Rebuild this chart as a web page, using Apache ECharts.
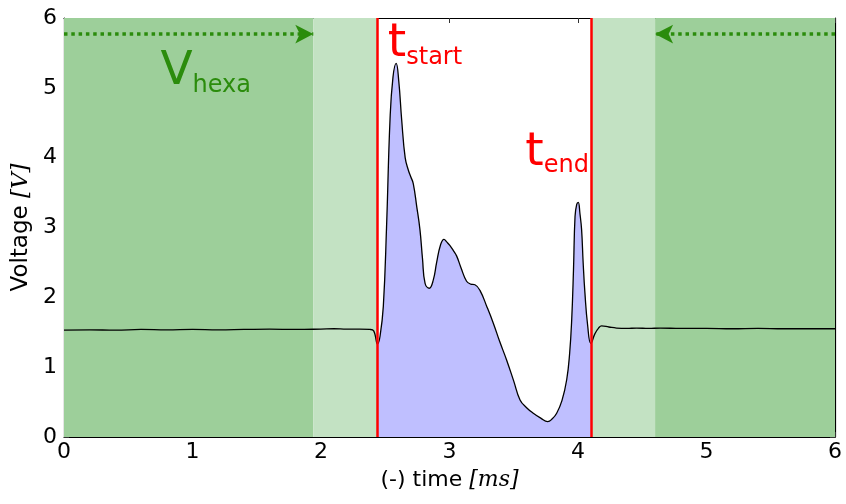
<!DOCTYPE html>
<html>
<head>
<meta charset="utf-8">
<script src="https://cdn.jsdelivr.net/npm/echarts@6/dist/echarts.min.js"></script>
<style>html,body{margin:0;padding:0;background:#fff}#c{width:846px;height:504px}</style>
</head>
<body>
<div id="c"></div>
<script>
// ---- data ----
const timeMs = [0,0.2,0.4,0.6,0.8,1.0,1.2,1.4,1.6,1.8,2.0,2.1,2.2,2.3,2.38,2.41,2.44,2.46,2.485,2.51,2.537,2.56,2.585,2.605,2.628,2.655,2.68,2.70,2.718,2.745,2.77,2.79,2.81,2.843,2.874,2.90,2.93,2.957,2.98,3.004,3.03,3.056,3.09,3.133,3.165,3.198,3.237,3.29,3.341,3.39,3.445,3.50,3.549,3.60,3.652,3.71,3.764,3.80,3.834,3.875,3.912,3.935,3.951,3.965,3.977,3.99,4.002,4.015,4.028,4.04,4.054,4.075,4.10,4.132,4.16,4.184,4.24,4.30,4.38,4.456,4.55,4.64,4.8,5.0,5.2,5.4,5.6,5.8,6.0];
const voltage = [1.53,1.535,1.53,1.54,1.535,1.54,1.535,1.54,1.545,1.54,1.545,1.55,1.545,1.545,1.54,1.52,1.33,1.45,1.87,3.0,4.54,5.15,5.35,5.1,4.54,4.0,3.82,3.72,3.63,3.3,2.97,2.55,2.2,2.13,2.25,2.5,2.75,2.83,2.79,2.74,2.67,2.59,2.42,2.23,2.19,2.18,2.10,1.87,1.63,1.37,1.10,0.80,0.53,0.42,0.34,0.27,0.22,0.26,0.34,0.52,0.82,1.2,1.68,2.4,3.16,3.33,3.36,3.2,2.97,2.5,2.06,1.6,1.34,1.48,1.56,1.59,1.575,1.56,1.555,1.56,1.555,1.56,1.555,1.555,1.55,1.555,1.55,1.55,1.55];
const tStart = 2.44;
const tEnd = 4.10;
const hexaLeftEnd = 1.94;
const hexaRightStart = 4.60;
const arrowLevel = 5.77;
const xTicks = [0,1,2,3,4,5,6];
const yTicks = [0,1,2,3,4,5,6];
// annotation anchors (data coords)
const labelVhexa = [0.75, 4.86];
const labelTstart = [2.52, 5.26];
const labelTend = [3.59, 3.71];

const curve = timeMs.map((t,i)=>[t, voltage[i]]);
const fillPart = curve.filter(p => p[0] >= tStart - 1e-9 && p[0] <= tEnd + 1e-9);

const green = '#2b8c0c';
const red = '#ff0000';

function richLabel(main, sub, color){
  return {
    show: true,
    position: [0,0],
    align: 'left',
    verticalAlign: 'bottom',
    formatter: '{m|' + main + '}{s|' + sub + '}',
    rich: {
      m: {fontSize: 47, lineHeight: 49, color: color, fontFamily: 'DejaVu Sans', verticalAlign: 'top'},
      s: {fontSize: 24, lineHeight: 24, color: color, fontFamily: 'DejaVu Sans', verticalAlign: 'bottom'}
    }
  };
}

const axisCommon = {
  type: 'value', min: 0, max: 6, interval: 1,
  axisLine: {show: true, onZero: false, lineStyle: {color: '#000', width: 1.2}},
  axisTick: {show: true, inside: true, length: 5, lineStyle: {color: '#333', width: 1}},
  splitLine: {show: false}
};

const chart = echarts.init(document.getElementById('c'), null, {renderer: 'canvas'});
chart.setOption({
  animation: false,
  backgroundColor: '#fff',
  grid: {left: 64, right: 11, top: 18, bottom: 67, containLabel: false},
  xAxis: [
    Object.assign({}, axisCommon, {
      position: 'bottom',
      axisLabel: {fontSize: 22, color: '#000', margin: 4, fontFamily: 'DejaVu Sans',
        formatter: v => xTicks.includes(v) ? String(v) : ''},
      name: '{a|(-) time }{b|[ms]}',
      nameLocation: 'middle', nameGap: 32,
      nameTextStyle: {rich: {
        a: {fontSize: 22, color: '#000', fontFamily: 'DejaVu Sans'},
        b: {fontSize: 22, color: '#000', fontFamily: 'DejaVu Serif', fontStyle: 'italic'}
      }}
    }),
    Object.assign({}, axisCommon, {position: 'top', axisLabel: {show: false}})
  ],
  yAxis: [
    Object.assign({}, axisCommon, {
      position: 'left',
      axisLabel: {fontSize: 22, color: '#000', margin: 7, fontFamily: 'DejaVu Sans',
        formatter: v => yTicks.includes(v) ? String(v) : ''},
      name: '{a|Voltage }{b|[V]}',
      nameLocation: 'middle', nameGap: 29, nameRotate: 90,
      nameTextStyle: {rich: {
        a: {fontSize: 23, color: '#000', fontFamily: 'DejaVu Sans'},
        b: {fontSize: 23, color: '#000', fontFamily: 'DejaVu Serif', fontStyle: 'italic'}
      }}
    }),
    Object.assign({}, axisCommon, {position: 'right', axisLabel: {show: false}})
  ],
  series: [
    {
      type: 'line', data: [], z: 1, silent: true,
      markArea: {
        silent: true,
        data: [
          [{xAxis: 0, itemStyle: {color: '#9dcf9a'}}, {xAxis: hexaLeftEnd}],
          [{xAxis: hexaLeftEnd, itemStyle: {color: '#c3e2c3'}}, {xAxis: tStart}],
          [{xAxis: tEnd, itemStyle: {color: '#c3e2c3'}}, {xAxis: hexaRightStart}],
          [{xAxis: hexaRightStart, itemStyle: {color: '#9dcf9a'}}, {xAxis: 6}]
        ]
      }
    },
    {
      type: 'line', data: fillPart, z: 2, silent: true,
      symbol: 'none', smooth: 0.45,
      lineStyle: {width: 0, opacity: 0},
      areaStyle: {color: '#bfbfff', opacity: 1}
    },
    {
      type: 'line', data: [], z: 3, silent: true,
      markLine: {
        silent: true, symbol: ['none','none'],
        label: {show: false},
        lineStyle: {color: red, width: 2.5, type: 'solid'},
        data: [{xAxis: tStart}, {xAxis: tEnd}]
      }
    },
    {
      type: 'line', data: curve, z: 4, silent: true,
      symbol: 'none', smooth: 0.45,
      lineStyle: {color: '#000', width: 1.3}
    },
    {
      type: 'line', data: [], z: 5, silent: true,
      markLine: {
        silent: true,
        symbol: ['none','arrow'], symbolSize: [14, 18],
        label: {show: false},
        lineStyle: {color: green, width: 3.5, type: [3.5, 3.8]},
        data: [
          [{coord: [0, arrowLevel]}, {coord: [hexaLeftEnd, arrowLevel]}],
          [{coord: [6, arrowLevel]}, {coord: [hexaRightStart, arrowLevel]}]
        ]
      },
      markPoint: {
        silent: true, symbol: 'circle', symbolSize: 0,
        data: [
          {coord: labelVhexa, label: richLabel('V', 'hexa', green)},
          {coord: labelTstart, label: richLabel('t', 'start', red)},
          {coord: labelTend, label: richLabel('t', 'end', red)}
        ]
      }
    }
  ]
});
</script>
</body>
</html>
